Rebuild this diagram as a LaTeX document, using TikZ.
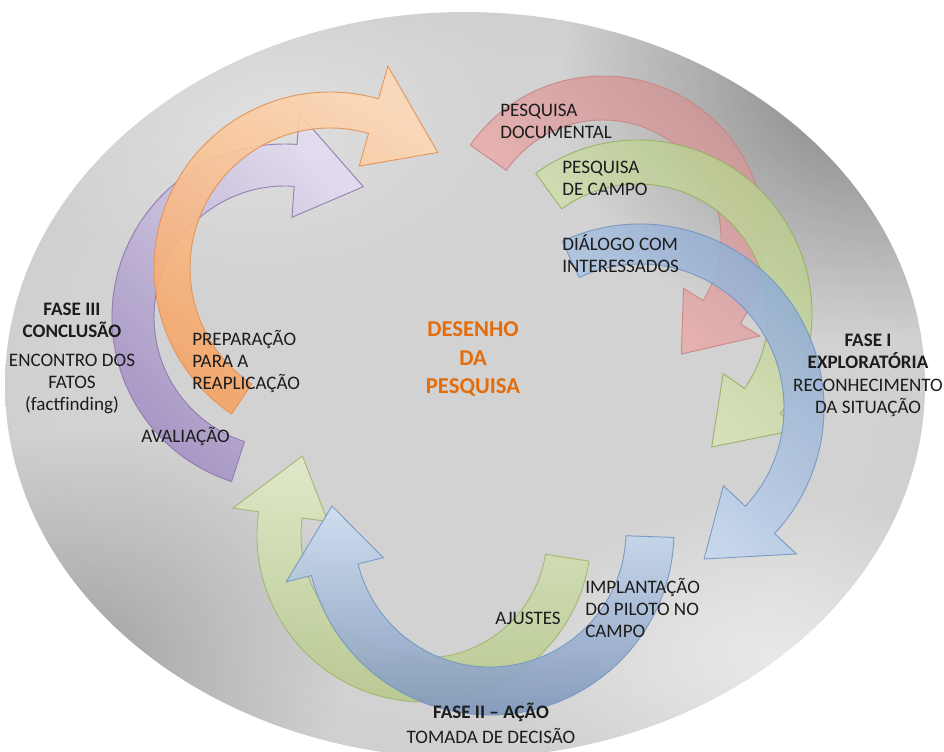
\documentclass[tikz,border=0pt]{standalone}
\usepackage{fontspec}
\setmainfont{Carlito}
\usetikzlibrary{positioning,fadings}

\definecolor{txtgray}{HTML}{1C1C1C}
\definecolor{deshorange}{HTML}{E46C0A}
\definecolor{orbin}{HTML}{D2D2D2}
\definecolor{orbmid}{HTML}{C2C2C2}
\definecolor{orbout}{HTML}{9A9A9A}
% arrow colours
\definecolor{orangelight}{HTML}{FDD8B6}
\definecolor{orangedark}{HTML}{F5A465}
\definecolor{orangeedge}{HTML}{E39152}
\definecolor{purplelight}{HTML}{E2DBEF}
\definecolor{purpledark}{HTML}{A18FC2}
\definecolor{purpleedge}{HTML}{8C79AE}
\definecolor{pinkdark}{HTML}{C99494}
\definecolor{pinklight}{HTML}{F4B9B9}
\definecolor{pinkedge}{HTML}{C98585}
\definecolor{greendark}{HTML}{B5C78A}
\definecolor{greenlight}{HTML}{E1EBC8}
\definecolor{greenedge}{HTML}{98AF62}
\definecolor{bluedark}{HTML}{8CA8CC}
\definecolor{bluelight}{HTML}{CFDFF3}
\definecolor{blueedge}{HTML}{7496C2}
\definecolor{steeldark}{HTML}{7E96BA}
\definecolor{oliveedge}{HTML}{A2B46E}

\tikzfading[name=blobfade, inner color=transparent!0, outer color=transparent!100]

\pgfdeclareradialshading{orbshade}{\pgfpoint{0bp}{0bp}}{%
  color(0bp)=(orbin); color(22bp)=(orbin); color(40bp)=(orbmid);
  color(50bp)=(orbout); color(75bp)=(orbout)}

% bent arrow: style, centre, x radius, y radius, tail angle, head base angle,
% tip angle, half width, head half width
\newcommand{\bentarrow}[9]{%
  \begin{scope}[shift={#2}]
    \path[#1] (#5:{#3+#8} and {#4+#8})
      arc[start angle=#5, end angle=#6, x radius=#3+#8, y radius=#4+#8]
      -- (#6:{#3+#9} and {#4+#9}) -- (#7:{#3} and {#4})
      -- (#6:{#3-#9} and {#4-#9}) -- (#6:{#3-#8} and {#4-#8})
      arc[start angle=#6, end angle=#5, x radius=#3-#8, y radius=#4-#8]
      -- cycle;
  \end{scope}}

\begin{document}
\begin{tikzpicture}[x=0.75pt, y=-0.75pt,
  lbl/.style = {text=txtgray, inner sep=0pt, align=left,
    font=\fontsize{14.3}{16.5}\selectfont},
  phase/.style = {lbl, align=center, font=\fontsize{14.3}{16.5}\selectfont\bfseries},
  title/.style = {inner sep=0pt, align=center, text=deshorange,
    font=\fontsize{17}{21.5}\selectfont\bfseries},
  arr/.style = {line width=0.7pt, fill opacity=0.9, draw opacity=0.9},
  purplearr/.style = {arr, draw=purpleedge, left color=purplelight, right color=purpledark, shading angle=-45},
  orangearr/.style = {arr, draw=orangeedge, left color=orangelight, right color=orangedark, shading angle=-30},
  pinkarr/.style = {arr, draw=pinkedge, left color=pinkdark, right color=pinklight, shading angle=-45},
  greenarr/.style = {arr, draw=greenedge, left color=greendark, right color=greenlight, shading angle=-45},
  bluearr/.style = {arr, draw=blueedge, left color=bluedark, right color=bluelight, shading angle=-45},
  olivearr/.style = {arr, draw=oliveedge, left color=greendark, right color=greenlight, shading angle=180},
  steelarr/.style = {arr, draw=blueedge, left color=steeldark, right color=bluelight, shading angle=180}]
\useasboundingbox (0,0) rectangle (944,751);

% the grey orb
\shade[shading=orbshade] (465,385) ellipse [x radius=460, y radius=373];
\begin{scope}
  \clip (465,385) ellipse [x radius=460, y radius=373];
  \fill[black, fill opacity=0.35, path fading=blobfade] (860,90) ellipse [x radius=300, y radius=250];
  \fill[black, fill opacity=0.2, path fading=blobfade] (90,650) ellipse [x radius=260, y radius=220];
  \fill[white, fill opacity=0.55, path fading=blobfade] (780,660) ellipse [x radius=280, y radius=170];
  \fill[white, fill opacity=0.3, path fading=blobfade] (260,120) ellipse [x radius=260, y radius=170];
\end{scope}

% fase III
\bentarrow{purplearr}{(285,317)}{152}{152}{108}{274}{301}{21}{52}
\bentarrow{orangearr}{(330,268)}{158}{158}{124}{286}{313}{18}{52}
% fase I
\bentarrow{pinkarr}{(603,238)}{140}{140}{-145}{32}{56}{22}{45}
\bentarrow{greenarr}{(638,314)}{152}{152}{-126}{35}{61}{22}{48}
\bentarrow{bluearr}{(640,408)}{164}{164}{-115}{43}{67}{20}{50}
% fase II
\bentarrow{olivearr}{(424,535)}{145}{145}{9}{188}{213}{22}{48}
\bentarrow{steelarr}{(490,531)}{160}{160}{2}{166}{189}{24}{50}

% labels
\node[title] (desenho) at (473,359) {DESENHO\\DA\\PESQUISA};

\node[lbl, anchor=west] (pdoc) at (500,121) {PESQUISA\\DOCUMENTAL};
\node[lbl, anchor=west] (pcampo) at (562,178) {PESQUISA\\DE CAMPO};
\node[lbl, anchor=west] (dialogo) at (562,254) {DIÁLOGO COM\\INTERESSADOS};
\node[phase] (fase1) at (868,351) {FASE I\\EXPLORATÓRIA};
\node[lbl, align=center, below=8pt of fase1] (reconh) {RECONHECIMENTO\\DA SITUAÇÃO};

\node[lbl, anchor=west] (preparo) at (192,361) {PREPARAÇÃO\\PARA A\\REAPLICAÇÃO};
\node[lbl, anchor=west] (avalia) at (141,436) {AVALIAÇÃO};
\node[phase] (fase3) at (72,320) {FASE III\\CONCLUSÃO};
\node[lbl, align=center, below=12pt of fase3] (encontro) {ENCONTRO DOS\\FATOS\\(factfinding)};

\node[lbl] (ajustes) at (528,618) {AJUSTES};
\node[lbl, anchor=west] (implanta) at (585,608) {IMPLANTAÇÃO\\DO PILOTO NO\\CAMPO};
\node[phase] (fase2) at (491,712) {FASE II -- AÇÃO};
\node[lbl, below=5pt of fase2] (tomada) {TOMADA DE DECISÃO};
\end{tikzpicture}
\end{document}
